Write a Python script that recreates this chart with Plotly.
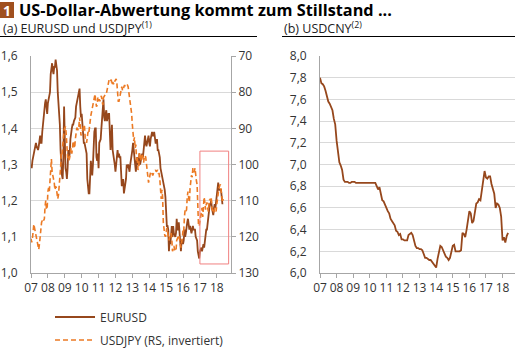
import plotly.graph_objects as go

W, H = 515, 348

years = list(range(2007, 2019))
year_labels = ["07", "08", "09", "10", "11", "12", "13", "14", "15", "16", "17", "18"]

# half-monthly readings, starting Jan 2007
eurusd = [
    1.30, 1.29, 1.31, 1.32, 1.32, 1.33, 1.34, 1.36, 1.35, 1.34, 1.34, 1.35,
    1.37, 1.38, 1.36, 1.36, 1.39, 1.42, 1.43, 1.45, 1.47, 1.48, 1.46, 1.44,
    1.47, 1.48, 1.48, 1.50, 1.55, 1.58, 1.58, 1.56, 1.55, 1.57, 1.57, 1.59,
    1.58, 1.56, 1.50, 1.47, 1.44, 1.41, 1.34, 1.27, 1.27, 1.26, 1.32, 1.46,
    1.34, 1.29, 1.28, 1.26, 1.29, 1.34, 1.32, 1.33, 1.37, 1.40, 1.40, 1.41,
    1.41, 1.42, 1.43, 1.43, 1.46, 1.47, 1.48, 1.49, 1.50, 1.51, 1.46, 1.43,
    1.44, 1.40, 1.37, 1.36, 1.36, 1.35, 1.35, 1.33, 1.26, 1.22, 1.22, 1.22,
    1.28, 1.31, 1.29, 1.27, 1.30, 1.36, 1.39, 1.40, 1.40, 1.32, 1.31, 1.33,
    1.29, 1.36, 1.37, 1.37, 1.40, 1.42, 1.44, 1.48, 1.43, 1.42, 1.44, 1.45,
    1.42, 1.44, 1.44, 1.44, 1.37, 1.34, 1.37, 1.41, 1.34, 1.33, 1.32, 1.30,
    1.28, 1.31, 1.32, 1.34, 1.32, 1.33, 1.32, 1.32, 1.28, 1.24, 1.25, 1.26,
    1.22, 1.23, 1.25, 1.26, 1.30, 1.29, 1.30, 1.29, 1.28, 1.30, 1.31, 1.32,
    1.34, 1.36, 1.34, 1.31, 1.30, 1.28, 1.31, 1.32, 1.30, 1.30, 1.33, 1.30,
    1.31, 1.33, 1.33, 1.32, 1.35, 1.36, 1.38, 1.36, 1.35, 1.36, 1.37, 1.38,
    1.36, 1.35, 1.37, 1.38, 1.39, 1.38, 1.38, 1.39, 1.37, 1.36, 1.36, 1.37,
    1.34, 1.34, 1.33, 1.32, 1.29, 1.28, 1.27, 1.26, 1.25, 1.25, 1.23, 1.21,
    1.16, 1.13, 1.13, 1.12, 1.06, 1.09, 1.08, 1.12, 1.13, 1.10, 1.13, 1.11,
    1.10, 1.10, 1.11, 1.15, 1.12, 1.12, 1.14, 1.10, 1.07, 1.06, 1.09, 1.09,
    1.08, 1.09, 1.12, 1.10, 1.11, 1.14, 1.14, 1.15, 1.13, 1.12, 1.13, 1.11,
    1.11, 1.12, 1.13, 1.12, 1.12, 1.12, 1.10, 1.09, 1.09, 1.06, 1.05, 1.04,
    1.06, 1.07, 1.07, 1.06, 1.07, 1.08, 1.07, 1.09, 1.12, 1.12, 1.12, 1.14,
    1.16, 1.18, 1.19, 1.19, 1.20, 1.18, 1.17, 1.16, 1.18, 1.19, 1.18, 1.20,
    1.22, 1.24, 1.25, 1.23, 1.23, 1.23, 1.23, 1.21, 1.19,
]

usdjpy = [
    120.5, 121.5, 120.5, 117.0, 116.5, 117.5, 118.5, 119.5, 120.5, 121.5, 122.5, 123.5,
    122.0, 119.5, 116.5, 116.0, 115.5, 115.0, 115.5, 115.0, 111.5, 110.0, 112.5, 112.0,
    107.5, 106.5, 107.5, 104.0, 100.0, 98.5, 102.0, 104.0, 104.0, 105.0, 107.0, 106.0,
    106.5, 108.0, 109.5, 108.5, 106.0, 105.0, 101.0, 97.0, 97.5, 95.0, 91.5, 90.5,
    90.0, 89.5, 91.5, 97.5, 98.0, 98.0, 99.0, 98.0, 96.0, 95.5, 97.0, 95.5,
    93.5, 94.5, 95.5, 93.0, 91.0, 90.0, 90.0, 90.5, 89.5, 87.0, 89.0, 92.0,
    91.5, 90.0, 90.0, 89.0, 89.5, 92.5, 93.5, 94.0, 92.5, 91.0, 91.5, 89.0,
    87.5, 86.5, 85.5, 84.5, 84.0, 83.5, 81.5, 80.5, 82.5, 84.0, 83.5, 81.5,
    82.5, 82.0, 82.5, 81.5, 81.0, 82.5, 83.5, 81.5, 81.0, 81.0, 80.5, 80.5,
    79.5, 77.5, 77.0, 76.5, 76.8, 77.0, 76.5, 78.0, 77.2, 77.8, 77.9, 77.0,
    76.8, 76.3, 77.5, 80.5, 82.5, 82.5, 81.5, 80.0, 80.0, 78.5, 79.5, 79.5,
    78.5, 78.0, 78.5, 78.5, 78.0, 78.0, 78.5, 80.0, 81.5, 82.5, 83.5, 86.0,
    89.0, 91.0, 93.5, 92.5, 95.5, 94.5, 99.0, 98.0, 101.5, 101.0, 96.5, 98.5,
    99.0, 97.5, 97.0, 98.0, 99.5, 98.0, 97.5, 98.0, 100.0, 102.0, 103.5, 105.0,
    104.0, 102.5, 102.0, 102.0, 102.5, 103.0, 102.5, 102.0, 101.5, 101.5, 102.0, 101.5,
    101.5, 102.5, 102.5, 104.0, 106.5, 109.5, 107.0, 109.0, 116.0, 118.5, 119.5, 120.0,
    118.0, 117.5, 118.5, 119.5, 121.0, 120.0, 119.5, 119.0, 120.5, 124.0, 123.5, 122.5,
    123.5, 124.0, 124.0, 121.0, 120.0, 120.0, 119.5, 121.0, 122.5, 123.0, 121.5, 120.5,
    118.0, 118.5, 114.5, 112.5, 113.0, 112.5, 109.0, 107.5, 109.0, 110.5, 106.5, 103.0,
    103.0, 103.5, 101.0, 102.0, 102.0, 101.0, 103.5, 104.5, 105.5, 112.0, 117.0, 117.0,
    114.5, 114.5, 113.0, 112.0, 114.5, 111.0, 109.0, 110.5, 112.5, 111.0, 110.5, 112.0,
    113.0, 110.5, 109.5, 110.0, 109.0, 112.0, 112.5, 113.5, 113.0, 112.0, 112.5, 113.0,
    111.0, 109.0, 109.0, 106.5, 106.0, 105.5, 107.0, 109.0, 110.5, 109.5,
]

# monthly readings, starting Jan 2007
usdcny = [
    7.80, 7.75, 7.74, 7.72, 7.68, 7.63, 7.58, 7.56, 7.52, 7.50, 7.42, 7.37,
    7.22, 7.13, 7.02, 6.99, 6.95, 6.86, 6.84, 6.84, 6.84, 6.83, 6.83, 6.84,
    6.84, 6.84, 6.83, 6.83, 6.83, 6.83, 6.83, 6.83, 6.83, 6.83, 6.83, 6.83,
    6.83, 6.83, 6.83, 6.83, 6.83, 6.80, 6.77, 6.79, 6.71, 6.67, 6.66, 6.63,
    6.59, 6.57, 6.55, 6.50, 6.48, 6.46, 6.44, 6.39, 6.38, 6.35, 6.36, 6.31,
    6.31, 6.30, 6.30, 6.30, 6.35, 6.36, 6.37, 6.35, 6.30, 6.25, 6.23, 6.23,
    6.22, 6.22, 6.21, 6.17, 6.14, 6.14, 6.13, 6.12, 6.12, 6.10, 6.09, 6.06,
    6.05, 6.13, 6.21, 6.25, 6.24, 6.21, 6.18, 6.15, 6.14, 6.12, 6.14, 6.20,
    6.25, 6.26, 6.20, 6.20, 6.20, 6.20, 6.21, 6.37, 6.36, 6.33, 6.40, 6.48,
    6.57, 6.55, 6.46, 6.48, 6.58, 6.64, 6.65, 6.68, 6.67, 6.76, 6.88, 6.94,
    6.88, 6.87, 6.89, 6.89, 6.82, 6.78, 6.73, 6.60, 6.64, 6.63, 6.60, 6.52,
    6.30, 6.33, 6.28, 6.34, 6.37,
]

def step_x(n, per_year):
    return [2007 + i / per_year for i in range(n)]

# highlighted window (x in years, y on the inverted USDJPY scale)
highlight_x = [2017.0, 2018.7]
highlight_y = [96.3, 127.5]

BROWN = "#96471C"
ORANGE = "#EC7A24"
GRID = "#D9D9D9"
AXIS = "#A6A6A6"
TXT = "#333333"
FONT = "Open Sans"

def px(x):
    return x / W

def py(y):
    return 1 - y / H

fig = go.Figure()

fig.add_trace(go.Scatter(x=step_x(len(eurusd), 24), y=eurusd, mode="lines", name="EURUSD",
                         line=dict(color=BROWN, width=1.8), xaxis="x", yaxis="y",
                         legend="legend"))
fig.add_trace(go.Scatter(x=step_x(len(usdjpy), 24), y=usdjpy, mode="lines",
                         name="USDJPY (RS, invertiert)",
                         line=dict(color=ORANGE, width=1.6, dash="5px,3px"), xaxis="x", yaxis="y2",
                         legend="legend2"))
fig.add_trace(go.Scatter(x=step_x(len(usdcny), 12), y=usdcny, mode="lines", name="USDCNY",
                         line=dict(color=BROWN, width=1.8), xaxis="x2", yaxis="y3",
                         showlegend=False))

ydom = [py(273), py(56)]
xl = [px(31), px(231)]
xr = [px(320), 1.0]

common_x = dict(tickvals=years, ticktext=year_labels, showgrid=False, showline=True,
                linecolor=AXIS, linewidth=1, ticks="outside", ticklen=4, tickcolor=AXIS,
                tickfont=dict(family=FONT, size=12, color=TXT), zeroline=False)

fig.update_layout(
    width=W, height=H, margin=dict(l=0, r=0, t=0, b=0, autoexpand=False),
    paper_bgcolor="white", plot_bgcolor="white",
    separators=",.",
    font=dict(family=FONT, color=TXT),
    xaxis=dict(domain=xl, range=[2007, 2018.84], anchor="y", **common_x),
    yaxis=dict(domain=ydom, range=[1.0, 1.6], dtick=0.1, tickformat=".1f", anchor="x",
               showgrid=True, gridcolor=GRID, gridwidth=1, showline=True, linecolor=AXIS,
               ticks="", ticklabelstandoff=10, zeroline=False,
               tickfont=dict(family=FONT, size=12, color=TXT)),
    yaxis2=dict(domain=ydom, range=[130, 70], dtick=10, overlaying="y", side="right",
                anchor="x", showgrid=False, showline=True, linecolor=AXIS,
                ticks="outside", ticklen=4, tickcolor=AXIS, zeroline=False,
                tickfont=dict(family=FONT, size=12, color=TXT)),
    xaxis2=dict(domain=xr, range=[2007, 2018.75], anchor="y3", **common_x),
    yaxis3=dict(domain=ydom, range=[6.0, 8.0], dtick=0.2, tickformat=".1f", anchor="x2",
                showgrid=True, gridcolor=GRID, gridwidth=1, showline=True, linecolor=AXIS,
                ticks="", ticklabelstandoff=10, zeroline=False,
                tickfont=dict(family=FONT, size=12, color=TXT)),
    legend=dict(x=px(50), y=py(317), xanchor="left", yanchor="middle", itemwidth=40,
                bgcolor="rgba(0,0,0,0)", font=dict(family=FONT, size=12, color=TXT)),
    legend2=dict(x=px(50), y=py(340), xanchor="left", yanchor="middle", itemwidth=40,
                 bgcolor="rgba(0,0,0,0)", font=dict(family=FONT, size=12, color=TXT)),
    showlegend=True,
)

shapes = [
    dict(type="rect", xref="paper", yref="paper", x0=px(0), x1=px(14), y0=py(18), y1=py(2),
         fillcolor="#A0501F", line=dict(width=0)),
    dict(type="line", xref="paper", yref="paper", x0=px(0), x1=px(257), y0=py(36.5), y1=py(36.5),
         line=dict(color="black", width=1)),
    dict(type="line", xref="paper", yref="paper", x0=px(282), x1=px(515), y0=py(36.5), y1=py(36.5),
         line=dict(color="black", width=1)),
    dict(type="rect", xref="x", yref="y2", x0=highlight_x[0], x1=highlight_x[1],
         y0=highlight_y[0], y1=highlight_y[1], line=dict(color="#F08080", width=1),
         fillcolor="rgba(0,0,0,0)"),
]
fig.update_layout(shapes=shapes)

annotations = [
    dict(text="<b>1</b>", x=px(7), y=py(10), xref="paper", yref="paper", showarrow=False,
         xanchor="center", yanchor="middle", font=dict(family=FONT, size=14, color="white")),
    dict(text="<b>US-Dollar-Abwertung kommt zum Stillstand ...</b>", x=px(17), y=py(10),
         xref="paper", yref="paper", showarrow=False, xanchor="left", yanchor="middle",
         font=dict(family=FONT, size=16.3, color="black")),
    dict(text="(a) EURUSD und USDJPY<sup>(1)</sup>", x=px(1), y=py(27.5), xref="paper",
         yref="paper", showarrow=False, xanchor="left", yanchor="middle",
         font=dict(family=FONT, size=12.5, color="#222222")),
    dict(text="(b) USDCNY<sup>(2)</sup>", x=px(282), y=py(27.5), xref="paper",
         yref="paper", showarrow=False, xanchor="left", yanchor="middle",
         font=dict(family=FONT, size=12.5, color="#222222")),
]
fig.update_layout(annotations=annotations)

fig.write_html("out.html")
